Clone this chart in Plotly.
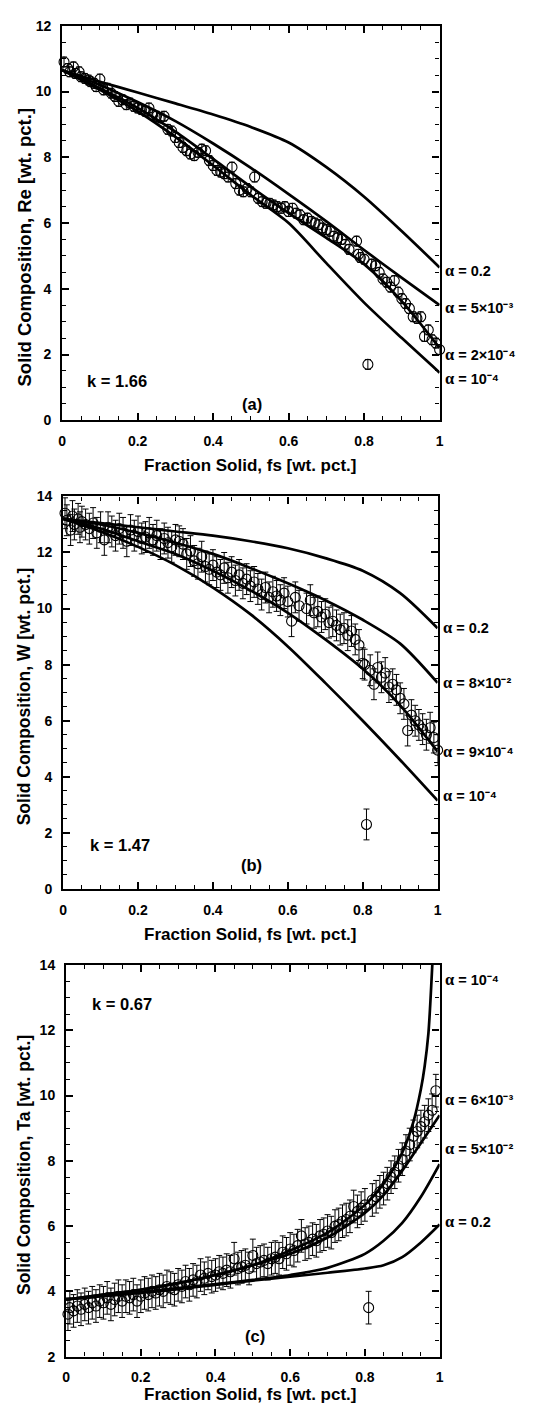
import plotly.graph_objects as go

# ---------------- Panel (a): Re, k = 1.66 ----------------
fs_a = [0.005, 0.015, 0.02, 0.03, 0.035, 0.045, 0.05, 0.06, 0.07, 0.075, 0.085, 0.09,
        0.1, 0.11, 0.12, 0.13, 0.14, 0.15, 0.16, 0.17, 0.18, 0.19, 0.2, 0.21, 0.22,
        0.23, 0.24, 0.25, 0.26, 0.27, 0.28, 0.29, 0.3, 0.31, 0.32, 0.33, 0.34, 0.35,
        0.36, 0.37, 0.38, 0.39, 0.4, 0.41, 0.42, 0.43, 0.44, 0.45, 0.46, 0.47, 0.48,
        0.49, 0.5, 0.51, 0.52, 0.53, 0.54, 0.55, 0.56, 0.57, 0.58, 0.59, 0.6, 0.61,
        0.62, 0.63, 0.64, 0.65, 0.66, 0.67, 0.68, 0.69, 0.7, 0.71, 0.72, 0.73, 0.74,
        0.75, 0.76, 0.78, 0.785, 0.79, 0.8, 0.82, 0.83, 0.84, 0.85, 0.86, 0.87, 0.88,
        0.89, 0.9, 0.91, 0.92, 0.93, 0.94, 0.95, 0.96, 0.97, 0.98, 0.99, 1.0]
re_a = [10.9, 10.7, 10.6, 10.75, 10.55, 10.6, 10.45, 10.4, 10.35, 10.3, 10.25, 10.15,
        10.38, 10.05, 10.1, 9.95, 9.85, 9.7, 9.75, 9.6, 9.65, 9.55, 9.5, 9.45, 9.4,
        9.5, 9.3, 9.25, 9.2, 9.25, 8.85, 8.8, 8.6, 8.45, 8.3, 8.2, 8.1, 8.05,
        8.15, 8.25, 8.2, 7.9, 7.75, 7.6, 7.55, 7.5, 7.4, 7.7, 7.2, 7.0, 6.95,
        7.05, 6.95, 7.4, 6.75, 6.65, 6.6, 6.6, 6.55, 6.5, 6.45, 6.5, 6.35, 6.45,
        6.3, 6.25, 6.1, 6.15, 6.05, 6.0, 5.95, 5.85, 5.8, 5.75, 5.6, 5.55, 5.5,
        5.35, 5.2, 5.45, 5.05, 4.95, 4.9, 4.75, 4.7, 4.5, 4.3, 4.2, 4.05, 4.25,
        3.9, 3.7, 3.55, 3.4, 3.15, 3.1, 3.15, 2.55, 2.75, 2.45, 2.35, 2.15]
err_a = 0.15
outlier_a = (0.81, 1.7)

grid_a = [0, 0.1, 0.2, 0.3, 0.4, 0.5, 0.6, 0.7, 0.8, 0.9, 1.0]
curves_a = {
    "0.2":  [10.65, 10.3, 9.97, 9.64, 9.3, 8.92, 8.45, 7.7, 6.8, 5.75, 4.65],
    "5e-3": [10.65, 10.2, 9.68, 9.1, 8.42, 7.68, 6.88, 6.05, 5.18, 4.33, 3.5],
    "2e-4": [10.65, 10.1, 9.5, 8.78, 7.95, 7.1, 6.3, 5.55, 4.75, 3.62, 2.2],
    "1e-4": [10.65, 10.05, 9.4, 8.62, 7.75, 6.85, 6.0, 4.78, 3.58, 2.5, 1.45],
}
labels_a = [("0.2", 4.57), ("5×10⁻³", 3.43), ("2×10⁻⁴", 2.0), ("10⁻⁴", 1.26)]

# ---------------- Panel (b): W, k = 1.47 ----------------
fs_b = [0.005, 0.01, 0.02, 0.025, 0.03, 0.04, 0.045, 0.05, 0.06, 0.07, 0.08, 0.09,
        0.1, 0.11, 0.12, 0.13, 0.14, 0.15, 0.16, 0.17, 0.18, 0.19, 0.2, 0.21, 0.22,
        0.23, 0.24, 0.25, 0.26, 0.27, 0.28, 0.29, 0.3, 0.31, 0.32, 0.33, 0.34, 0.35,
        0.36, 0.37, 0.38, 0.39, 0.4, 0.41, 0.42, 0.43, 0.44, 0.45, 0.46, 0.47, 0.48,
        0.49, 0.5, 0.51, 0.52, 0.53, 0.54, 0.55, 0.56, 0.57, 0.58, 0.59, 0.6, 0.61,
        0.62, 0.63, 0.65, 0.66, 0.67, 0.68, 0.69, 0.7, 0.71, 0.72, 0.73, 0.74, 0.75,
        0.76, 0.77, 0.78, 0.79, 0.8, 0.805, 0.82, 0.83, 0.84, 0.85, 0.86, 0.87, 0.88,
        0.89, 0.9, 0.91, 0.92, 0.93, 0.94, 0.95, 0.96, 0.97, 0.98, 0.99, 1.0]
w_b = [13.4, 13.15, 12.8, 13.3, 13.0, 13.2, 12.9, 13.1, 13.0, 12.85, 13.05, 12.7,
       12.9, 12.45, 12.9, 12.75, 12.6, 12.85, 12.7, 12.4, 12.8, 12.6, 12.75, 12.5, 12.55,
       12.7, 12.45, 12.6, 12.3, 12.5, 12.35, 12.2, 12.45, 12.4, 12.3, 11.95, 12.05, 11.7,
       11.6, 11.85, 11.5, 11.4, 11.55, 11.3, 11.2, 11.45, 11.1, 11.3, 11.0, 11.2, 10.9,
       11.05, 10.8, 10.95, 10.7, 10.5, 10.75, 10.4, 10.6, 10.45, 10.3, 10.55, 10.25, 9.55,
       10.4, 10.1, 10.0, 10.3, 9.85, 9.9, 9.7, 9.8, 9.5, 9.55, 9.4, 9.25, 9.3,
       9.05, 9.2, 8.9, 8.7, 8.05, 8.0, 7.8, 7.3, 7.9, 7.55, 7.7, 7.2, 7.3,
       7.1, 6.8, 6.6, 5.65, 6.2, 6.0, 5.85, 5.7, 5.5, 5.75, 5.4, 4.95]
err_b = 0.55
outlier_b = (0.81, 2.3)

grid_b = [0, 0.1, 0.2, 0.3, 0.4, 0.5, 0.6, 0.7, 0.8, 0.9, 1.0]
curves_b = {
    "0.2":  [13.2, 13.05, 12.9, 12.75, 12.6, 12.4, 12.15, 11.8, 11.35, 10.55, 9.3],
    "8e-2": [13.2, 13.0, 12.7, 12.35, 11.95, 11.45, 10.9, 10.3, 9.6, 8.75, 7.35],
    "9e-4": [13.2, 12.85, 12.4, 11.95, 11.35, 10.65, 9.85, 8.9, 7.85, 6.55, 4.9],
    "1e-4": [13.2, 12.75, 12.2, 11.55, 10.75, 9.8, 8.65, 7.35, 6.0, 4.6, 3.15],
}
labels_b = [("0.2", 9.32), ("8×10⁻²", 7.38), ("9×10⁻⁴", 4.91), ("10⁻⁴", 3.33)]

# ---------------- Panel (c): Ta, k = 0.67 ----------------
fs_c = [0.005, 0.01, 0.02, 0.03, 0.04, 0.05, 0.06, 0.07, 0.08, 0.09, 0.1, 0.11,
        0.12, 0.13, 0.14, 0.15, 0.16, 0.17, 0.18, 0.19, 0.2, 0.21, 0.22, 0.23, 0.24,
        0.25, 0.26, 0.27, 0.28, 0.29, 0.3, 0.31, 0.32, 0.33, 0.34, 0.35, 0.36, 0.37,
        0.38, 0.39, 0.4, 0.41, 0.42, 0.43, 0.44, 0.45, 0.46, 0.47, 0.48, 0.49, 0.5,
        0.51, 0.52, 0.53, 0.54, 0.55, 0.56, 0.57, 0.58, 0.59, 0.6, 0.61, 0.62, 0.63,
        0.64, 0.65, 0.66, 0.67, 0.68, 0.69, 0.7, 0.71, 0.72, 0.73, 0.74, 0.75, 0.76,
        0.77, 0.78, 0.79, 0.8, 0.82, 0.83, 0.84, 0.85, 0.86, 0.87, 0.88, 0.89, 0.9,
        0.91, 0.92, 0.93, 0.94, 0.95, 0.96, 0.97, 0.98, 0.99]
ta_c = [3.3, 3.5, 3.4, 3.55, 3.45, 3.6, 3.5, 3.65, 3.55, 3.7, 3.65, 3.8,
        3.6, 3.75, 3.85, 3.7, 3.85, 3.8, 3.9, 3.7, 3.85, 3.95, 3.9, 4.0, 3.95,
        4.05, 4.0, 4.15, 4.1, 4.05, 4.2, 4.15, 4.3, 4.2, 4.35, 4.3, 4.5, 4.4,
        4.55, 4.45, 4.5, 4.6, 4.55, 4.65, 4.6, 5.0, 4.7, 4.75, 4.8, 4.7, 5.1,
        4.85, 4.9, 4.95, 4.85, 5.0, 5.05, 5.0, 5.2, 5.15, 5.3, 5.25, 5.4, 5.7,
        5.45, 5.5, 5.6, 5.55, 5.7, 5.75, 5.85, 5.8, 6.0, 6.05, 6.15, 6.2, 6.3,
        6.6, 6.45, 6.55, 6.65, 6.8, 6.9, 7.05, 7.15, 7.3, 7.5, 7.65, 7.85, 8.05,
        8.3, 8.5, 8.75, 8.9, 9.05, 9.2, 9.4, 9.55, 10.15]
err_c = 0.5
outlier_c = (0.81, 3.5)

grid_c = [0, 0.1, 0.2, 0.3, 0.4, 0.5, 0.6, 0.7, 0.8, 0.85, 0.9, 0.95, 1.0]
curves_c = {
    "6e-3": [3.75, 3.9, 4.05, 4.25, 4.5, 4.8, 5.15, 5.65, 6.4, 6.95, 7.7, 8.55, 9.4],
    "5e-2": [3.75, 3.87, 3.98, 4.1, 4.22, 4.35, 4.5, 4.72, 5.15, 5.55, 6.1, 6.9, 7.9],
    "0.2":  [3.75, 3.85, 3.95, 4.07, 4.2, 4.33, 4.45, 4.57, 4.7, 4.8, 5.05, 5.5, 6.05],
}
grid_c_scheil = [0, 0.1, 0.2, 0.3, 0.4, 0.5, 0.6, 0.7, 0.8, 0.85, 0.9, 0.93, 0.95,
                 0.96, 0.97, 0.975, 0.98, 0.985]
scheil_c = [3.75, 3.9, 4.05, 4.25, 4.5, 4.8, 5.25, 5.8, 6.65, 7.3, 8.25, 9.2, 10.2,
            10.9, 11.9, 12.8, 13.9, 15.0]
labels_c = [("10⁻⁴", 13.55), ("6×10⁻³", 9.88), ("5×10⁻²", 8.37), ("0.2", 6.15)]

FONT = "Liberation Sans, Arial, Helvetica, sans-serif"
SERIF = "Liberation Serif, Times New Roman, serif"
W, H = 552, 1417
LABEL_SIZE = 14.5

fig = go.Figure()


def add_data(fs, vals, err, outlier, xa, ya):
    xs = list(fs) + [outlier[0]]
    ys = list(vals) + [outlier[1]]
    fig.add_trace(go.Scatter(
        x=xs, y=ys, mode="markers", xaxis=xa, yaxis=ya, cliponaxis=False,
        marker=dict(symbol="circle-open", size=10, color="black",
                    line=dict(width=1.1, color="black")),
        error_y=dict(type="constant", value=err, color="black",
                     thickness=1, width=3),
        showlegend=False, hoverinfo="skip"))


def add_curve(xgrid, vals, xa, ya, shape="spline"):
    fig.add_trace(go.Scatter(
        x=xgrid, y=vals, mode="lines", xaxis=xa, yaxis=ya,
        line=dict(color="black", width=2.7, shape=shape, smoothing=0.8),
        showlegend=False, hoverinfo="skip"))


# panel pixel boxes: (left, right, top, bottom)
boxes = {
    1: (59, 442, 18, 417),
    2: (60, 440, 494, 891),
    3: (63, 442, 968, 1364),
}
yranges = {1: [0, 12], 2: [0, 14], 3: [2, 14]}

for fsx, vals, err, out, n in [(fs_a, re_a, err_a, outlier_a, 1),
                               (fs_b, w_b, err_b, outlier_b, 2),
                               (fs_c, ta_c, err_c, outlier_c, 3)]:
    xa = "x" if n == 1 else f"x{n}"
    ya = "y" if n == 1 else f"y{n}"
    if n == 1:
        for v in curves_a.values():
            add_curve(grid_a, v, xa, ya)
    elif n == 2:
        for v in curves_b.values():
            add_curve(grid_b, v, xa, ya)
    else:
        for v in curves_c.values():
            add_curve(grid_c, v, xa, ya)
        add_curve(grid_c_scheil, scheil_c, xa, ya)
    add_data(fsx, vals, err, out, xa, ya)

axis_common = dict(
    showline=True, linecolor="black", linewidth=2.2, mirror="allticks",
    ticks="inside", ticklen=7, tickwidth=1.5, tickcolor="black",
    showgrid=False, zeroline=False,
    tickfont=dict(family=FONT, size=14, color="black", weight="bold"),
)

layout = dict(width=W, height=H, margin=dict(l=0, r=0, t=0, b=0),
              paper_bgcolor="white", plot_bgcolor="white", showlegend=False)

for n, (l, r, t, b) in boxes.items():
    xk = "xaxis" if n == 1 else f"xaxis{n}"
    yk = "yaxis" if n == 1 else f"yaxis{n}"
    xa = "x" if n == 1 else f"x{n}"
    ya = "y" if n == 1 else f"y{n}"
    layout[xk] = dict(axis_common, domain=[l / W, r / W], anchor=ya,
                      range=[0, 1], tickvals=[0, 0.2, 0.4, 0.6, 0.8, 1],
                      ticktext=["0", "0.2", "0.4", "0.6", "0.8", "1"],
                      ticklabelstandoff=7,
                      minor=dict(dtick=0.05, ticks="inside", ticklen=4,
                                 tickwidth=1, tickcolor="black"))
    layout[yk] = dict(axis_common, domain=[1 - b / H, 1 - t / H], anchor=xa,
                      range=yranges[n], dtick=2, ticklabelstandoff=6,
                      minor=dict(dtick=0.5, ticks="inside", ticklen=4,
                                 tickwidth=1, tickcolor="black"))

fig.update_layout(**layout)

ann = []
xtitle = "Fraction Solid, fs [wt. pct.]"
ytitles = {1: "Solid Composition, Re [wt. pct.]",
           2: "Solid Composition, W [wt. pct.]",
           3: "Solid Composition, Ta [wt. pct.]"}
xtitle_y = {1: 463, 2: 937, 3: 1402}
ytitle_y = {1: 242, 2: 696, 3: 1170}
ytitle_size = {1: 18.5, 2: 17.5, 3: 17.5}

for n in boxes:
    ann.append(dict(text=xtitle, xref="paper", yref="paper", x=250.5 / W,
                    y=1 - xtitle_y[n] / H, xanchor="center", yanchor="middle",
                    showarrow=False,
                    font=dict(family=FONT, size=17, color="black", weight="bold")))
    ann.append(dict(text=ytitles[n], xref="paper", yref="paper", x=20.5 / W,
                    y=1 - ytitle_y[n] / H, xanchor="center", yanchor="middle",
                    textangle=-90, showarrow=False,
                    font=dict(family=FONT, size=ytitle_size[n], color="black",
                              weight="bold")))

# in-panel notes
notes = [(1, "k = 1.66", 0.06, 1.2, "left"), (1, "(a)", 0.503, 0.51, "center"),
         (2, "k = 1.47", 0.066, 1.56, "left"), (2, "(b)", 0.504, 0.86, "center"),
         (3, "k = 0.67", 0.063, 12.8, "left"), (3, "(c)", 0.507, 2.63, "center")]
for n, txt, x, y, anc in notes:
    xa = "x" if n == 1 else f"x{n}"
    ya = "y" if n == 1 else f"y{n}"
    ann.append(dict(text=txt, xref=xa, yref=ya, x=x, y=y, xanchor=anc,
                    yanchor="middle", showarrow=False,
                    font=dict(family=FONT, size=16.5, color="black", weight="bold")))

# curve labels on the right: serif alpha followed by the value
for n, labs in [(1, labels_a), (2, labels_b), (3, labels_c)]:
    xa = "x" if n == 1 else f"x{n}"
    ya = "y" if n == 1 else f"y{n}"
    for val, y in labs:
        t = (f"<span style='font-family:{SERIF};font-size:{LABEL_SIZE + 2}px'>α</span>"
             f"<span style='font-size:{LABEL_SIZE}px'> = {val}</span>")
        ann.append(dict(text=t, xref=xa, yref=ya, x=1, y=y, xanchor="left",
                        yanchor="middle", xshift=3, showarrow=False,
                        font=dict(family=FONT, size=LABEL_SIZE, color="black",
                                  weight="bold")))

fig.update_layout(annotations=ann)
fig.write_html("out.html")
